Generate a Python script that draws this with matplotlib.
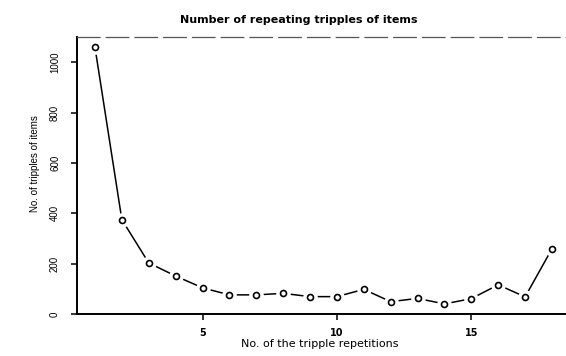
import matplotlib
matplotlib.use("Agg")
import matplotlib.pyplot as plt
import numpy as np

# number of repetitions vs count of repeating triples
reps = list(range(1, 19))
counts = [1060, 375, 203, 151, 104, 76, 76, 82, 69, 69, 98, 49, 62, 40, 61, 116, 68, 259]
yticks = [0, 200, 400, 600, 800, 1000]
xticks = [5, 10, 15]

plt.rcParams['font.family'] = ['Liberation Sans', 'DejaVu Sans']

fig = plt.figure(figsize=(5.66, 3.56), dpi=100)
ax = fig.add_axes([0.1355, 0.118, 0.872, 0.778])

ax.plot(reps, counts, color='black', linewidth=1.1, zorder=1)
ax.plot(reps, counts, linestyle='None', marker='o', markersize=9.5,
        markerfacecolor='white', markeredgecolor='white', zorder=2)
ax.plot(reps, counts, linestyle='None', marker='o', markersize=4.3,
        markerfacecolor='white', markeredgecolor='black', markeredgewidth=1.2, zorder=3)

ax.set_xlim(0.32, 18.68)
ax.set_ylim(0, 1101)

ax.set_xticks(xticks)
ax.set_xticklabels([str(t) for t in xticks], fontsize=7, fontweight='bold',
                   family='DejaVu Sans')
ax.set_yticks(yticks)
ax.set_yticklabels([str(t) for t in yticks], fontsize=7, rotation=90, va='center')
ax.tick_params(axis='both', length=4, width=1.1, color='black')
ax.tick_params(axis='x', pad=6)
ax.tick_params(axis='y', pad=8)

for s in ['left', 'bottom']:
    ax.spines[s].set_linewidth(1.4)
ax.spines['top'].set_color('#555555')
ax.spines['top'].set_linewidth(0.9)
ax.spines['top'].set_linestyle((0, (18, 5)))
ax.spines['right'].set_visible(False)

fig.text(0.528, 0.945, 'Number of repeating tripples of items', ha='center', va='center',
         fontsize=8, fontweight='bold', family='DejaVu Sans')
fig.text(0.565, 0.035, 'No. of the tripple repetitions', ha='center', va='center',
         fontsize=8, fontweight='medium', family='DejaVu Sans')
fig.text(0.062, 0.54, 'No. of tripples of items', ha='center', va='center',
         fontsize=7, rotation=90, fontstretch='condensed')

fig.savefig('out.png', dpi=100)
